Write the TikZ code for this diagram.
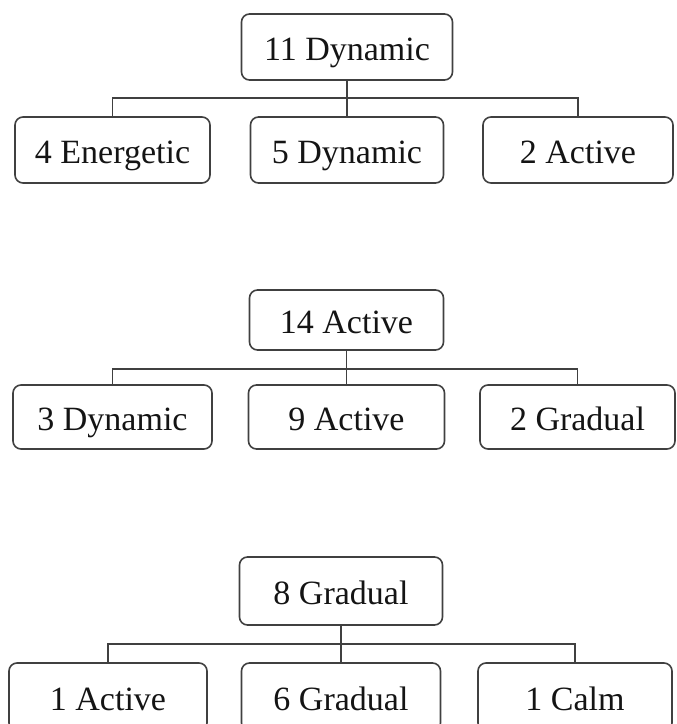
\documentclass[tikz,border=0pt]{standalone}
\usepackage{fontspec}
\setmainfont{Liberation Serif}

\tikzset{
  box/.style={draw=black!75, line width=0.8pt, rounded corners=4pt, inner sep=0pt,
    font=\fontsize{17}{20}\selectfont, text=black!92, text height=13pt, text depth=0pt},
  link/.style={draw=black!75, line width=0.8pt},
}

\begin{document}
\begin{tikzpicture}[x=0.5pt, y=-0.5pt]
  \useasboundingbox (0,0) rectangle (676,724);
  \clip (0,0) rectangle (676,724);
  % first tree
  \node[box, minimum width=105.5pt, minimum height=33pt] (D11) at (347,47) {11 Dynamic};
  \node[box, minimum width=97.5pt, minimum height=33pt] (E4) at (112.5,150) {4 Energetic};
  \node[box, minimum width=96.5pt, minimum height=33pt] (D5) at (347,150) {5 Dynamic};
  \node[box, minimum width=95pt, minimum height=33pt] (A2) at (578,150) {2 Active};
  \coordinate (bar1) at (347,98);
  \draw[link] (D11.south) -- (D5.north);
  \draw[link] (E4.north) |- (bar1) -| (A2.north);
  % second tree
  \node[box, minimum width=97pt, minimum height=30pt] (A14) at (346.5,320) {14 Active};
  \node[box, minimum width=99.5pt, minimum height=32pt] (D3) at (112.5,417) {3 Dynamic};
  \node[box, minimum width=98pt, minimum height=32pt] (A9) at (346.5,417) {9 Active};
  \node[box, minimum width=97.5pt, minimum height=32pt] (G2) at (577.5,417) {2 Gradual};
  \coordinate (bar2) at (346.5,369);
  \draw[link] (A14.south) -- (A9.north);
  \draw[link] (D3.north) |- (bar2) -| (G2.north);
  % third tree
  \node[box, minimum width=101.5pt, minimum height=34pt] (G8) at (341,591) {8 Gradual};
  \node[box, minimum width=99pt, minimum height=34pt] (A1) at (108,697) {1 Active};
  \node[box, minimum width=99.5pt, minimum height=34pt] (G6) at (341,697) {6 Gradual};
  \node[box, minimum width=97pt, minimum height=34pt] (C1) at (575,697) {1 Calm};
  \coordinate (bar3) at (341,644);
  \draw[link] (G8.south) -- (G6.north);
  \draw[link] (A1.north) |- (bar3) -| (C1.north);
\end{tikzpicture}
\end{document}
